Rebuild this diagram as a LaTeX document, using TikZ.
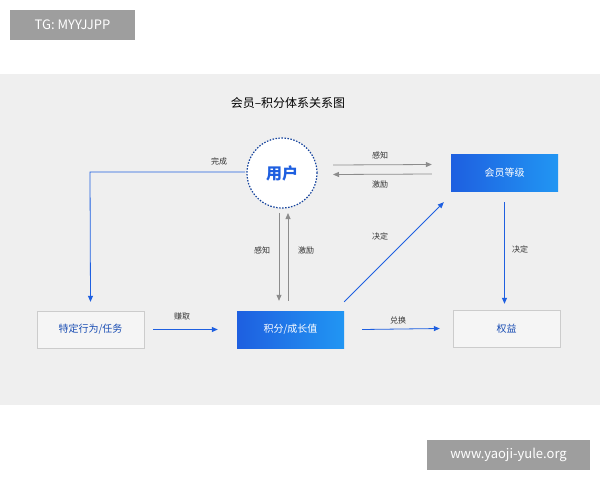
\documentclass[tikz,border=0pt]{standalone}
\usepackage{fontspec}
\setmainfont{Noto Sans CJK SC}
\usetikzlibrary{arrows.meta,positioning,shadings}
\definecolor{blueA}{HTML}{1E5FE0}
\definecolor{blueB}{HTML}{2196F3}
\definecolor{panel}{HTML}{EFEFEF}
\definecolor{tag}{HTML}{9E9E9E}
\tikzset{
  gradbox/.style={rectangle,minimum width=107pt,minimum height=37pt,left color=blueA,right color=blueB,text=white,font=\fontsize{10}{12}\selectfont},
  plainbox/.style={rectangle,minimum width=107pt,minimum height=37pt,fill=panel!60!white,draw=black!20,text=blueA!80!black,font=\fontsize{10}{12}\selectfont},
  tagbox/.style={fill=tag,text=white,inner sep=0pt,font=\fontsize{13}{15}\selectfont},
  blueflow/.style={-{Triangle[length=6pt,width=5pt]},draw=blueA,thick},
  grayflow/.style={-{Triangle[length=6pt,width=5pt]},draw=black!45,thick},
  lbl/.style={font=\fontsize{8}{10}\selectfont,text=black!80}
}
\begin{document}
\begin{tikzpicture}[x=1pt,y=-1pt]
\useasboundingbox (0,0) rectangle (600,480);
\fill[white] (0,0) rectangle (600,480);
\fill[panel] (0,74) rectangle (600,405);
\node[tagbox,minimum width=125pt,minimum height=30pt] (tg) at (72.5,25) {TG: MYYJJPP};
\node[tagbox,minimum width=163pt,minimum height=30pt] (web) at (508.5,455) {www.yaoji-yule.org};
\node[font=\fontsize{12}{14}\selectfont] (title) at (288,103) {会员–积分体系关系图};

% nodes
\node[circle,minimum size=70pt,fill=white,draw=blueA!70!black,line width=1.2pt,dash pattern=on 1.5pt off 1.5pt,text=blueA,font=\fontsize{16}{18}\selectfont\bfseries] (user) at (282,173) {用户};
\node[gradbox] (level) at (504.5,172.5) {会员等级};
\node[plainbox] (task) at (90.5,329.5) {特定行为/任务};
\node[gradbox] (points) at (290.5,329.5) {积分/成长值};
\node[plainbox] (rights) at (506.5,328.5) {权益};

% connectors
\coordinate (corner) at (90,172);
\draw[blueflow] ([shift={(-37,-1)}]user.center) -- (corner) -- ([shift={(0,-9)}]task.north);
\node[lbl] at (219,161) {完成};
\draw[grayflow] ([shift={(51,-8)}]user.center) -- ([shift={(-19,-8)}]level.west);
\draw[grayflow] ([shift={(-19,1.5)}]level.west) -- ([shift={(51,1.5)}]user.center);
\node[lbl] at (380,155) {感知};
\node[lbl] at (380,184) {激励};
\draw[grayflow] ([shift={(-3,40)}]user.center) -- ([shift={(-11.5,-10)}]points.north);
\draw[grayflow] ([shift={(-2.5,-10)}]points.north) -- ([shift={(6,40)}]user.center);
\node[lbl] at (262,250) {感知};
\node[lbl] at (306,250) {激励};
\draw[blueflow] ([shift={(9,0)}]task.east) -- ([shift={(-19,0)}]points.west);
\node[lbl] at (182,316) {赚取};
\draw[blueflow] ([shift={(0,-9)}]points.north east) -- ([shift={(-7,11)}]level.south west);
\node[lbl] at (380,236) {决定};
\draw[blueflow] ([shift={(18,0)}]points.east) -- ([shift={(-13,0)}]rights.west);
\node[lbl] at (398,320) {兑换};
\draw[blueflow] ([shift={(0,11)}]level.south) -- ([shift={(-2,-6)}]rights.north);
\node[lbl] at (520,249) {决定};
\end{tikzpicture}
\end{document}
